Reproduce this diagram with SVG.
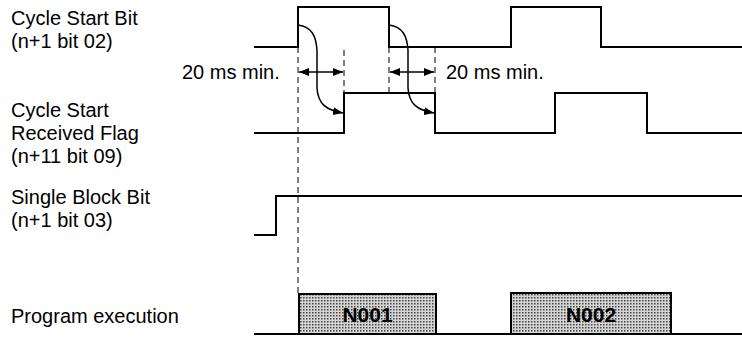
<svg xmlns="http://www.w3.org/2000/svg" width="742" height="339" viewBox="0 0 742 339">
<style>
text{font-family:"Liberation Sans",Arial,sans-serif;font-size:20px;fill:#000}
.box-label{font-weight:bold;font-size:21px;text-anchor:middle}
.wave{fill:none;stroke:#000;stroke-width:2}
.dash{fill:none;stroke:#000;stroke-width:1;stroke-dasharray:6 4}
.arr{fill:none;stroke:#000;stroke-width:1.5}
.box{fill:url(#stip);stroke:#000;stroke-width:2}
</style>
<defs>
<pattern id="stip" width="3" height="3" patternUnits="userSpaceOnUse">
<rect width="3" height="3" fill="#d4d4d4"/>
<rect width="1.5" height="1.5" fill="#444"/>
</pattern>
<marker id="ah" markerWidth="10" markerHeight="8" refX="10" refY="4" orient="auto-start-reverse" markerUnits="userSpaceOnUse">
<path d="M0,0 L10,4 L0,8 Z" fill="#000"/>
</marker>
</defs>
<g id="labels">
<text x="11" y="25">Cycle Start Bit</text>
<text x="11" y="48">(n+1 bit 02)</text>
<text x="11" y="117">Cycle Start</text>
<text x="11" y="140">Received Flag</text>
<text x="11" y="163">(n+11 bit 09)</text>
<text x="11" y="204">Single Block Bit</text>
<text x="11" y="227">(n+1 bit 03)</text>
<text x="11" y="323">Program execution</text>
<text x="182" y="79">20 ms min.</text>
<text x="446" y="79">20 ms min.</text>
</g>
<g id="cycle-start-bit">
<path class="wave" d="M254,47 H298 V7 H389 V47 H511 V7 H601 V47 H742"/>
</g>
<g id="cycle-start-received-flag">
<path class="wave" d="M254,133 H344 V93 H435 V133 H555 V93 H647 V133 H742"/>
</g>
<g id="single-block-bit">
<path class="wave" d="M254,235 H276 V196 H742"/>
</g>
<g id="program-execution">
<path class="wave" d="M254,334 H742"/>
<g id="n001">
<rect class="box" x="299" y="294" width="137" height="40"/>
<text class="box-label" x="367.5" y="322">N001</text>
</g>
<g id="n002">
<rect class="box" x="511" y="293" width="160" height="41"/>
<text class="box-label" x="591" y="322">N002</text>
</g>
</g>
<g id="connectors">
<path class="dash" d="M298,47 V294"/>
<path class="dash" d="M344,50 V93"/>
<path class="dash" d="M389,47 V93"/>
<path class="dash" d="M435,47 V93"/>
<path class="arr" d="M299,72 H343" marker-start="url(#ah)" marker-end="url(#ah)"/>
<path class="arr" d="M390,72 H434" marker-start="url(#ah)" marker-end="url(#ah)"/>
<path class="arr" d="M298,25 C312,27 316,36 317,50 V88 C318,104 326,110 343,113" marker-end="url(#ah)"/>
<path class="arr" d="M389,25 C403,27 407,36 408,50 V88 C409,104 417,110 434,113" marker-end="url(#ah)"/>
</g>
</svg>
